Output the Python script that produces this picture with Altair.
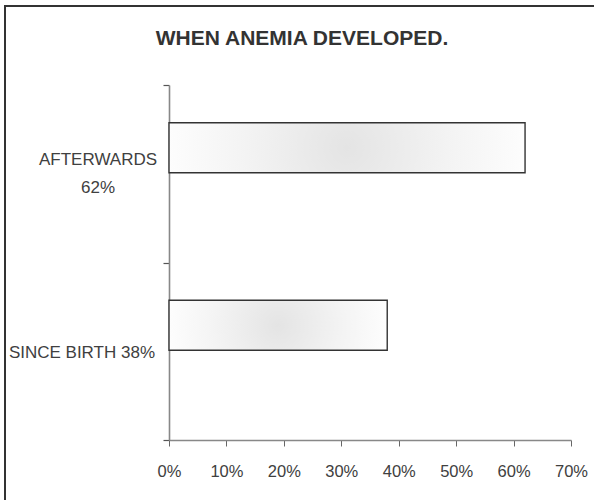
import altair as alt
import pandas as pd

# Answers to "when did the anemia develop?"
categories = ["AFTERWARDS", "SINCE BIRTH"]
shares = [0.62, 0.38]
label_lines = ["AFTERWARDS\n62%", "SINCE BIRTH 38%"]
tick_values = [0, 0.1, 0.2, 0.3, 0.4, 0.5, 0.6, 0.7]

FONT = "Liberation Sans, Arial, sans-serif"
TEXT = "#404040"

df = pd.DataFrame({"when": categories, "share": shares, "label": label_lines})

y_enc = alt.Y(
    "when:N",
    sort=categories,
    scale=alt.Scale(domain=categories, paddingInner=0, paddingOuter=0),
    axis=alt.Axis(
        title=None,
        labels=False,
        tickBand="extent",
        tickSize=6,
        tickColor="#555555",
        tickWidth=1.2,
        domainColor="#888888",
        domainWidth=1.6,
    ),
)

x_enc = alt.X(
    "share:Q",
    scale=alt.Scale(domain=[0, 0.7], nice=False),
    axis=alt.Axis(
        values=tick_values,
        format=".0%",
        title=None,
        grid=False,
        tickSize=6,
        tickColor="#666666",
        domainColor="#888888",
        domainWidth=1.6,
        labelFlush=False,
        labelPadding=17,
        labelFont=FONT,
        labelFontSize=16.5,
        labelColor=TEXT,
    ),
)

# soft grey centre fading to white towards the bar edges
gradient = alt.RadialGradient(
    gradient="radial",
    x1=0.5, y1=0.5, r1=0,
    x2=0.5, y2=0.5, r2=0.55,
    stops=[
        alt.GradientStop(color="#e4e4e4", offset=0),
        alt.GradientStop(color="#f4f4f4", offset=0.55),
        alt.GradientStop(color="#ffffff", offset=1),
    ],
)

base = alt.Chart(df)

bars = base.mark_bar(
    fill=gradient, stroke="#333333", strokeWidth=1.4, height=50, yOffset=-26
).encode(x=x_enc, y=y_enc)

label_style = dict(
    baseline="middle", lineBreak="\n", lineHeight=28.5,
    font=FONT, fontSize=17, color=TEXT,
)

label_two_lines = base.transform_filter(alt.datum.when == "AFTERWARDS").mark_text(
    align="center", dy=-14, **label_style
).encode(y=y_enc, x=alt.value(-71), text="label:N")

label_one_line = base.transform_filter(alt.datum.when == "SINCE BIRTH").mark_text(
    align="right", dy=2, **label_style
).encode(y=y_enc, x=alt.value(-14), text="label:N")

# outer frame of the figure
frame = alt.Chart(pd.DataFrame({"k": [0]})).mark_rect(
    fill=None, stroke="#333333", strokeWidth=2
).encode(
    x=alt.value(-164), x2=alt.value(440),
    y=alt.value(-79), y2=alt.value(430),
)

chart = alt.layer(frame, bars, label_two_lines, label_one_line).properties(
    width=402,
    height=355,
    autosize="none",
    padding={"left": 169, "top": 85, "right": 23, "bottom": 60},
    title=alt.Title(
        "WHEN ANEMIA DEVELOPED.",
        font=FONT,
        fontSize=21,
        fontWeight="bold",
        color="#333333",
        anchor="middle",
        frame="group",
        dx=-68,
        baseline="alphabetic",
        offset=-61,
    ),
).configure_view(stroke=None)

chart.save("out.html", embed_options={"renderer": "svg", "actions": False})
